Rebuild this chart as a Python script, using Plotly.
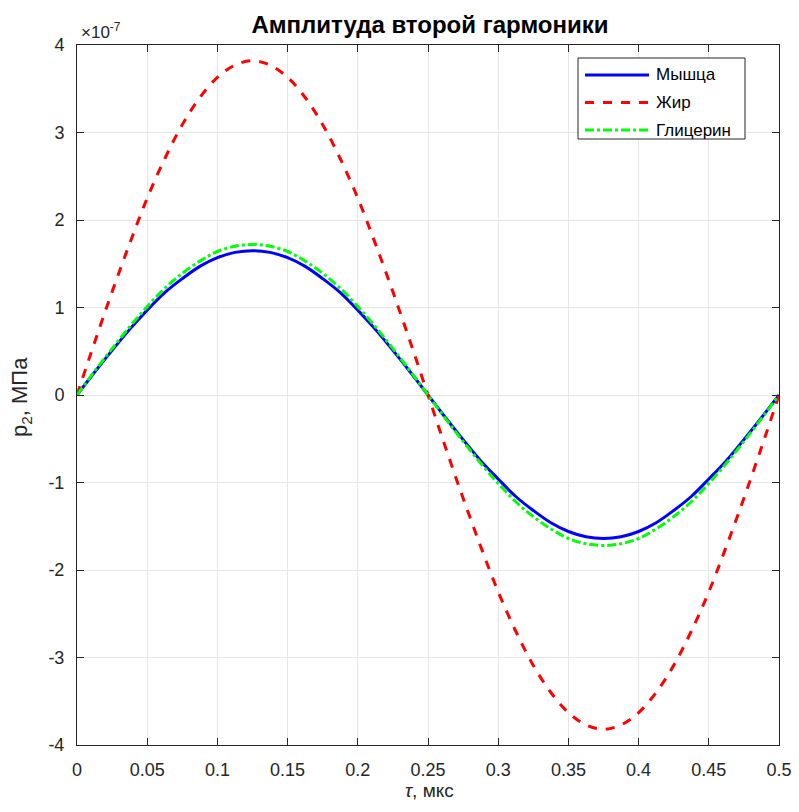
import plotly.graph_objects as go

# time, мкс
tau = [round(0.0125 * k, 4) for k in range(41)]

# values in units of 1e-7 МПа
muscle = [0, 0.26, 0.51, 0.75, 0.97, 1.17, 1.33, 1.47, 1.57, 1.63, 1.65,
          1.63, 1.57, 1.47, 1.33, 1.17, 0.97, 0.75, 0.51, 0.26,
          0, -0.26, -0.51, -0.75, -0.96, -1.16, -1.32, -1.46, -1.56, -1.62, -1.64,
          -1.62, -1.56, -1.46, -1.32, -1.16, -0.96, -0.75, -0.51, -0.26, 0]
fat = [0, 0.60, 1.18, 1.73, 2.25, 2.70, 3.09, 3.40, 3.63, 3.77, 3.82,
       3.77, 3.63, 3.40, 3.09, 2.70, 2.25, 1.73, 1.18, 0.60,
       0, -0.60, -1.18, -1.73, -2.25, -2.70, -3.09, -3.40, -3.63, -3.77, -3.82,
       -3.77, -3.63, -3.40, -3.09, -2.70, -2.25, -1.73, -1.18, -0.60, 0]
glycerin = [0, 0.27, 0.53, 0.78, 1.01, 1.22, 1.39, 1.53, 1.64, 1.70, 1.72,
            1.70, 1.64, 1.53, 1.39, 1.22, 1.01, 0.78, 0.53, 0.27,
            0, -0.27, -0.53, -0.78, -1.01, -1.22, -1.39, -1.53, -1.64, -1.70, -1.72,
            -1.70, -1.64, -1.53, -1.39, -1.22, -1.01, -0.78, -0.53, -0.27, 0]

names = ["Мышца", "Жир", "Глицерин"]
colors = ["#0000ff", "#ff0000", "#00ff00"]
dashes = ["solid", "dash", "dashdot"]
x_ticks = [0, 0.05, 0.1, 0.15, 0.2, 0.25, 0.3, 0.35, 0.4, 0.45, 0.5]
x_tick_labels = ["0", "0.05", "0.1", "0.15", "0.2", "0.25", "0.3", "0.35", "0.4", "0.45", "0.5"]
y_ticks = [-4, -3, -2, -1, 0, 1, 2, 3, 4]
y_tick_labels = ["-4", "-3", "-2", "-1", "0", "1", "2", "3", "4"]

FONT = "Liberation Sans, Arial, sans-serif"
INK = "#262626"

# body margin is removed by post_script, so div coords == page coords
W, H = 799, 812
# plot area in page px
PL, PR, PT, PB = 77, 779, 45, 745


def px(X):
    return (X - PL) / (PR - PL)


def py(Y):
    return (PB - Y) / (PB - PT)


fig = go.Figure()
for name, ys, c, d in zip(names, [muscle, fat, glycerin], colors, dashes):
    fig.add_trace(go.Scatter(x=tau, y=ys, name=name, mode="lines", line_shape="spline",
                             line=dict(color=c, width=3, dash=d), showlegend=False))

axis_common = dict(showline=True, linecolor=INK, linewidth=1, mirror="ticks",
                   ticks="inside", ticklen=7, tickcolor=INK, automargin=False,
                   showgrid=True, gridcolor="#e6e6e6", gridwidth=1, zeroline=False)

fig.update_layout(
    width=W, height=H,
    margin=dict(l=PL, r=W - PR, t=PT, b=H - PB, autoexpand=False),
    paper_bgcolor="white", plot_bgcolor="white",
    title=dict(text="<b>Амплитуда второй гармоники</b>", x=430 / W, xanchor="center",
               xref="container", yref="container",
               y=1 - 25 / H, yanchor="middle",
               font=dict(family=FONT, size=24, color="black")),
    xaxis=dict(range=[0, 0.5], tickvals=x_ticks, ticktext=x_tick_labels,
               ticklabelstandoff=8, tickfont=dict(family=FONT, size=18, color=INK),
               **axis_common),
    yaxis=dict(range=[-4, 4], tickvals=y_ticks, ticktext=y_tick_labels,
               ticklabelstandoff=8, tickfont=dict(family=FONT, size=18, color=INK),
               **axis_common),
    showlegend=False,
)

# axis titles
fig.add_annotation(text="<i>τ</i>, мкс", xref="paper", yref="paper", x=px(429), y=py(790),
                   xanchor="center", yanchor="middle", showarrow=False,
                   font=dict(family=FONT, size=19, color=INK))
fig.add_annotation(text="p<sub>2</sub>, МПа", xref="paper", yref="paper", x=px(21), y=py(397),
                   xanchor="center", yanchor="middle", textangle=-90, showarrow=False,
                   font=dict(family=FONT, size=22, color=INK))

# exponent label
fig.add_annotation(text="×10<sup>-7</sup>", xref="paper", yref="paper", x=px(79), y=py(44),
                   xanchor="left", yanchor="bottom", showarrow=False,
                   font=dict(family=FONT, size=17, color=INK))

# legend box
fig.add_shape(type="rect", xref="paper", yref="paper",
              x0=px(578), x1=px(745), y0=py(139), y1=py(58),
              line=dict(color=INK, width=1), fillcolor="white", layer="above")
for i, (name, c, d) in enumerate(zip(names, colors, dashes)):
    Y = 75 + i * 27.5
    fig.add_shape(type="line", xref="paper", yref="paper",
                  x0=px(585), x1=px(649), y0=py(Y), y1=py(Y),
                  line=dict(color=c, width=3, dash=d), layer="above")
    fig.add_annotation(text=name, xref="paper", yref="paper", x=px(654), y=py(Y),
                       xanchor="left", yanchor="middle", showarrow=False,
                       font=dict(family=FONT, size=17, color="black"))

fig.write_html("out.html", config={"displayModeBar": False},
               post_script="document.body.style.margin='0';document.body.style.overflow='hidden';")
